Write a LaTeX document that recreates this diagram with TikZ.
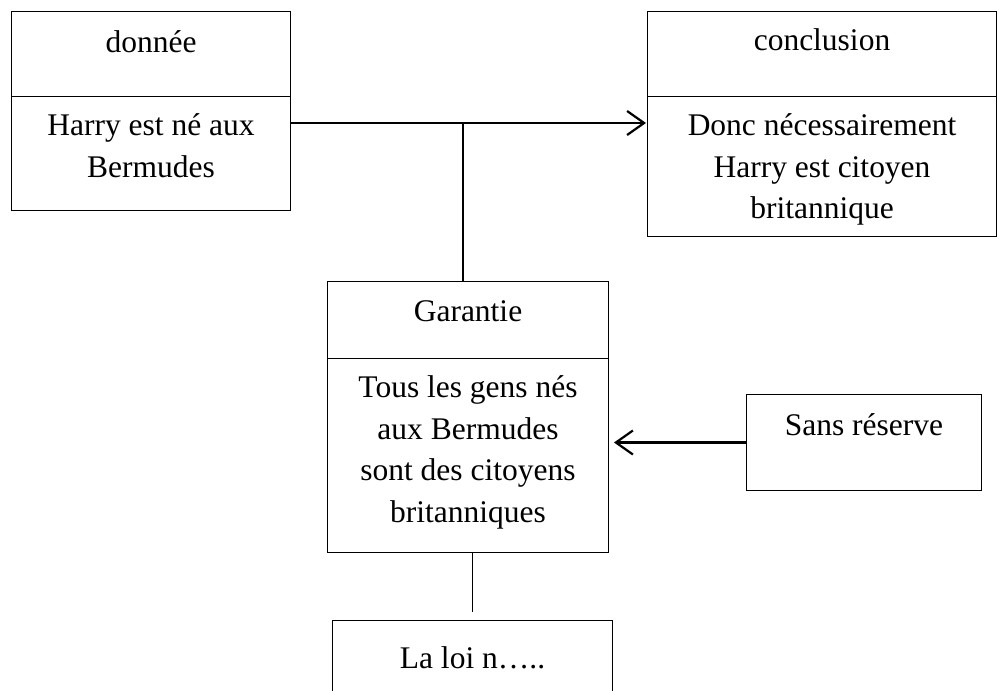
\documentclass[tikz,border=0pt]{standalone}
\usepackage{fontspec}
\setmainfont{Liberation Serif}
\usetikzlibrary{arrows.meta}

% texte d'une case : hauteur, largeur, position de la premiere ligne, texte
\newcommand{\cadre}[4]{\parbox[c][#1][t]{#2}{\centering\rule{0pt}{#3}#4}}

\begin{document}
\begin{tikzpicture}[x=1pt, y=-1pt,
    every node/.style={font=\fontsize{31.5}{41.5}\selectfont},
    boite/.style={draw, line width=1pt, inner sep=0pt, anchor=north west},
    trait/.style={line width=1.6pt},
    fleche/.style={line width=2.2pt, -{Straight Barb[length=17pt, width=24pt, line width=2.2pt]}}]

            \clip (0,0) rectangle (997,691);

            % Donnée
            \node[boite] (donTitre) at (11,11)  {\cadre{85pt}{279pt}{41pt}{donnée}};
            \node[boite] (donCorps) at (11,96)  {\cadre{114pt}{279pt}{39pt}{Harry est né aux\\Bermudes}};

            % Conclusion
            \node[boite] (conTitre) at (647,11) {\cadre{85pt}{349pt}{39pt}{conclusion}};
            \node[boite] (conCorps) at (647,96) {\cadre{140pt}{349pt}{39pt}{Donc nécessairement\\Harry est citoyen\\britannique}};

            % Garantie
            \node[boite] (garTitre) at (327,281) {\cadre{77pt}{281pt}{40pt}{Garantie}};
            \node[boite] (garCorps) at (327,358) {\cadre{194pt}{281pt}{39pt}{Tous les gens nés\\aux Bermudes\\sont des citoyens\\britanniques}};

            % Qualificateur et fondement
            \node[boite] (sans)  at (746,394) {\cadre{96pt}{235pt}{41pt}{Sans réserve}};
            \node[boite] (laLoi) at (332,620) {\cadre{100pt}{280pt}{48pt}{La loi n…..}};

            % Liaisons
            \coordinate (jonction) at (463,123);
            \draw[fleche] (donCorps.east |- jonction) -- ([xshift=-1pt]conCorps.west |- jonction);
            \draw[trait] (jonction) -- (jonction |- garTitre.north);
            \draw[fleche] (sans.west) -- ([xshift=5pt]sans.west -| garCorps.east);
            \draw[trait] (laLoi.north |- garCorps.south) -- ([yshift=8pt]laLoi.north);

\end{tikzpicture}
\end{document}
